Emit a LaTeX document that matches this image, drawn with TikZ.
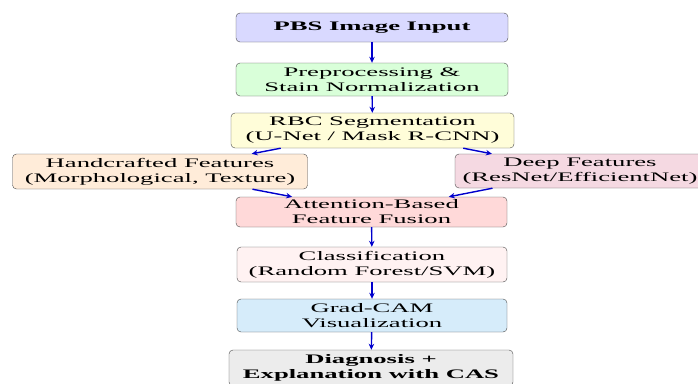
\documentclass[tikz,border=0pt]{standalone}
\usepackage{fontspec}
\setmainfont[FakeStretch=2.05]{Liberation Serif}
\usetikzlibrary{arrows.meta,positioning}
\definecolor{camblue}{HTML}{D6ECFA}

\begin{document}
\begin{tikzpicture}[x=1pt, y=-1pt, >={Stealth[length=6pt,width=5.5pt]}, line join=round,
    stage/.style={draw=black!70, rounded corners=4pt, align=center, inner sep=1pt,
      font=\fontsize{13}{15}\selectfont, minimum width=272pt, minimum height=33pt},
    flow/.style={->, blue!80!black, line width=1.4pt}]
    \useasboundingbox (0,0) rectangle (698,383);
    \node[stage, fill=blue!15, minimum height=29pt] (pbs) at (372,27.5) {\textbf{PBS Image Input}};
    \node[stage, fill=green!15] (prep) at (372,79.5) {Preprocessing \&\\Stain Normalization};
    \node[stage, fill=yellow!15, minimum width=283pt, minimum height=35pt] (rbc) at (372.5,130.5) {RBC Segmentation\\(U-Net / Mask R-CNN)};
    \node[stage, fill=orange!15, minimum width=295pt, minimum height=35pt] (hand) at (160,171.5) {Handcrafted Features\\(Morphological, Texture)};
    \node[stage, fill=purple!15, minimum width=250pt, minimum height=34pt] (deep) at (580,171) {Deep Features\\(ResNet/EfficientNet)};
    \node[stage, fill=red!15, minimum width=271pt, minimum height=30pt] (att) at (371.5,212) {Attention-Based\\Feature Fusion};
    \node[stage, fill=red!5, minimum width=270pt, minimum height=35pt] (cls) at (372,264.5) {Classification\\(Random Forest/SVM)};
    \node[stage, fill=camblue, minimum width=270pt] (cam) at (372,315.5) {Grad-CAM\\Visualization};
    \node[stage, fill=gray!15, minimum width=284pt, minimum height=36pt] (diag) at (371,368) {\textbf{Diagnosis +}\\\textbf{Explanation with CAS}};
    \draw[flow] (pbs) -- (prep);
    \draw[flow] (prep) -- (rbc);
    \draw[flow] (rbc) -- (hand);
    \draw[flow] (rbc) -- (deep);
    \draw[flow] (hand) -- (att);
    \draw[flow] (deep) -- (att);
    \draw[flow] (att) -- (cls);
    \draw[flow] (cls) -- (cam);
    \draw[flow] (cam) -- (diag);
\end{tikzpicture}
\end{document}
